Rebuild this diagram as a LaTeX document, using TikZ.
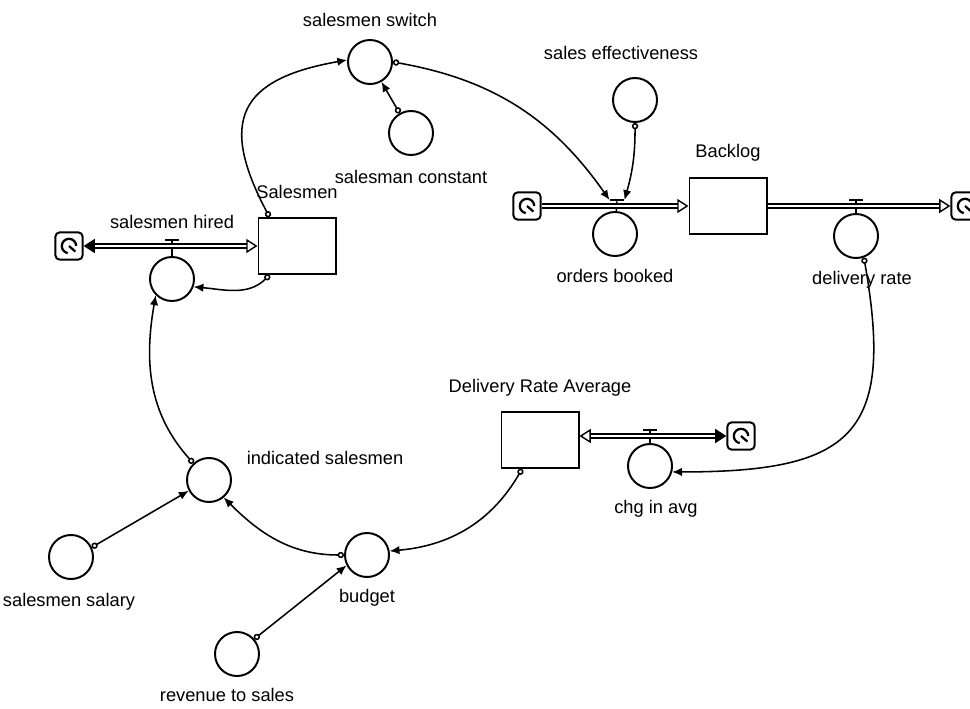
\documentclass[tikz,border=0pt]{standalone}
\usepackage{fontspec}
\setmainfont{Liberation Sans}
\usetikzlibrary{arrows.meta, calc, positioning}
\tikzstyle{aux}= [draw, circle, line width=1.4pt, minimum size=1.1cm, inner sep=0pt]
\tikzstyle{stock}= [draw, rectangle, line width=1.4pt, minimum width=1.925cm, minimum height=1.4cm]
\tikzstyle{sourcesink}= [draw, line width=1.4pt, rounded corners=3pt, minimum size=0.68cm, inner sep=0pt,
    path picture={\draw[line width=1.6pt] ([xshift=0.18cm]path picture bounding box.center)
        arc[start angle=0, end angle=260, radius=0.18cm];
        \draw[line width=1.6pt] (path picture bounding box.center) -- ++(0.16cm,-0.14cm);}]
\tikzstyle{pipe}= [double, double distance=2pt, line width=1pt]
\tikzstyle{valvebar}= [fill, rectangle, minimum width=0.36cm, minimum height=1.6pt, inner sep=0pt]
\tikzstyle{link}= [line width=1.1pt, {Circle[open,length=4.5pt,width=4.5pt]}-{Latex[length=7pt,width=6pt]}]
\tikzstyle{lbl}= [font=\fontsize{13}{15}\selectfont, inner sep=0pt]

\begin{document}
\begin{tikzpicture}[x=0.025cm, y=0.025cm, node distance=1.1cm]
    \useasboundingbox (0,0) rectangle (970,-708);

    % stocks
    \node [stock] (Salesmen) at (297,-246) {};
    \node [stock] (Backlog) at (728,-206) {};
    \node [stock] (DeliveryRateAverage) at (540,-440) {};

    % sources and sinks
    \node [sourcesink] (CloudHired) at (69,-246) {};
    \node [sourcesink] (CloudOrders) at (527,-206) {};
    \node [sourcesink] (CloudDelivery) at (965,-206) {};
    \node [sourcesink] (CloudAvg) at (741,-436) {};

    % auxiliaries
    \node [aux] (SalesmenSwitch) at (370,-62) {};
    \node [aux] (SalesmanConstant) at (411,-133) {};
    \node [aux] (SalesEffectiveness) at (635,-100) {};
    \node [aux] (OrdersBooked) at (615,-234) {};
    \node [aux] (DeliveryRate) at (856,-236) {};
    \node [aux] (SalesmenHired) at (172,-279) {};
    \node [aux] (ChgInAvg) at (650,-466) {};
    \node [aux] (IndicatedSalesmen) at (209,-480) {};
    \node [aux] (SalesmenSalary) at (71,-557) {};
    \node [aux] (Budget) at (367,-555) {};
    \node [aux] (RevenueToSales) at (237,-654) {};

    % valves
    \node [valvebar] (HiredValve) at (172,-240) {};
    \node [valvebar] (OBValve) at (617,-200) {};
    \node [valvebar] (DRValve) at (856,-200) {};
    \node [valvebar] (AvgValve) at (650,-430) {};
    \draw [line width=1.1pt] (HiredValve) -- (SalesmenHired);
    \draw [line width=1.1pt] (OBValve) -- (OrdersBooked);
    \draw [line width=1.1pt] (DRValve) -- (DeliveryRate);
    \draw [line width=1.1pt] (AvgValve) -- (ChgInAvg);

    % flows
    \draw [pipe, -{Triangle[open, length=8pt, width=10pt]}] (CloudOrders) -- (Backlog);
    \draw [pipe, -{Triangle[open, length=8pt, width=10pt]}] (Backlog) -- (CloudDelivery);
    \draw [pipe, {Triangle[open, length=8pt, width=10pt]}-{Triangle[length=8pt, width=10pt]}]
        (Salesmen) -- (CloudHired);
    \draw [pipe, {Triangle[open, length=8pt, width=10pt]}-{Triangle[length=8pt, width=10pt]}]
        (DeliveryRateAverage.east |- CloudAvg) -- (CloudAvg);

    % information links
    \draw [link] ([xshift=0.3cm]Salesmen.north west) to[out=118, in=190, looseness=1.6] (SalesmenSwitch.175);
    \draw [link] (SalesmanConstant.120) -- (SalesmenSwitch.300);
    \draw [link] (SalesmenSwitch.0) to[out=-10, in=125] (OBValve.west);
    \draw [link] (SalesEffectiveness.south) to[bend left=8] (OBValve.east);
    \draw [link] ([xshift=0.3cm]Salesmen.south west) to[out=225, in=-5] (SalesmenHired.-20);
    \draw [link] (DeliveryRate.-70) to[out=-80, in=0, looseness=1.6] (ChgInAvg.-15);
    \draw [link] ([xshift=-0.45cm]DeliveryRateAverage.south) to[out=240, in=5] (Budget.10);
    \draw [link] (Budget.180) to[out=180, in=-45] (IndicatedSalesmen.-50);
    \draw [link] (SalesmenSalary.25) -- (IndicatedSalesmen.208);
    \draw [link] (RevenueToSales.41) -- (Budget.207);
    \draw [link] (IndicatedSalesmen.133) to[out=132, in=260] (SalesmenHired.225);

    % labels
    \node [lbl, above of=SalesmenSwitch, node distance=1.05cm] {salesmen switch};
    \node [lbl, below of=SalesmanConstant] {salesman constant};
    \node [lbl, above of=SalesEffectiveness, node distance=1.175cm, xshift=-0.35cm] {sales effectiveness};
    \node [lbl, above of=Backlog, node distance=1.325cm] {Backlog};
    \node [lbl, above of=Salesmen, node distance=1.35cm] {Salesmen};
    \node [lbl, above of=SalesmenHired, node distance=1.425cm] {salesmen hired};
    \node [lbl, below of=OrdersBooked, node distance=1.05cm] {orders booked};
    \node [lbl, below of=DeliveryRate, xshift=0.15cm] {delivery rate};
    \node [lbl, above of=DeliveryRateAverage, node distance=1.3cm] {Delivery Rate Average};
    \node [lbl, below of=ChgInAvg, node distance=1.08cm, xshift=0.15cm] {chg in avg};
    \node [lbl] at (325,-458) {indicated salesmen};
    \node [lbl, below of=SalesmenSalary, node distance=1.125cm, xshift=-0.05cm] {salesmen salary};
    \node [lbl, below of=Budget, node distance=1.075cm] {budget};
    \node [lbl, below of=RevenueToSales, node distance=1.02cm, xshift=-0.25cm] {revenue to sales};

\end{tikzpicture}
\end{document}
